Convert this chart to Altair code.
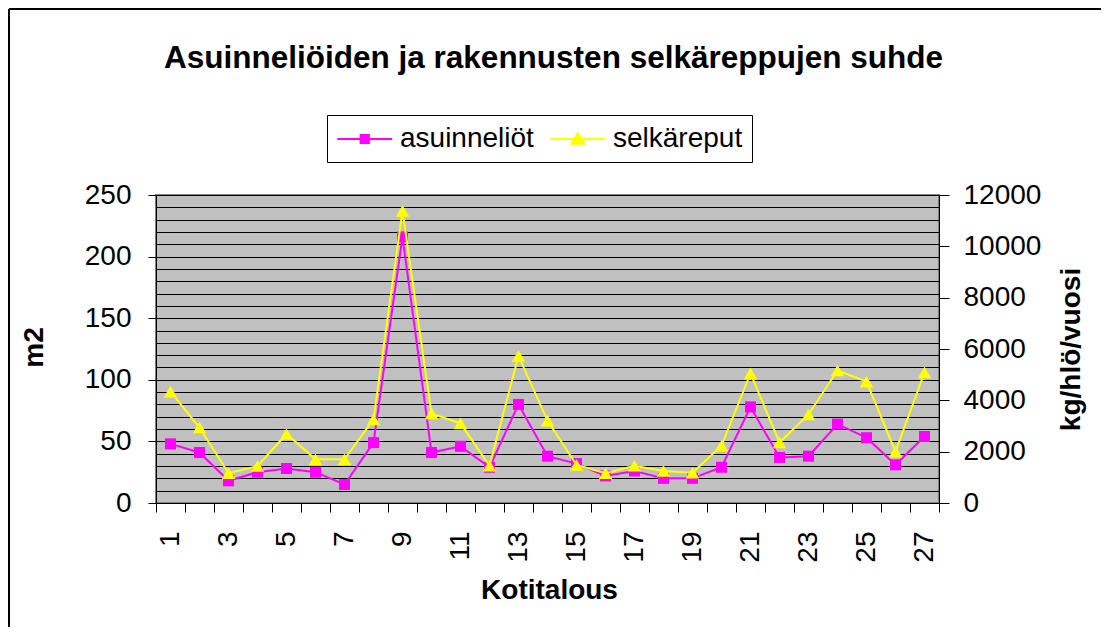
import altair as alt
import pandas as pd

# ---- data ----
kotitalous = list(range(1, 28))
asuinneliot = [48, 41, 18, 25, 28, 25, 15, 49, 216, 41, 46, 29, 80, 38,
               32, 22, 26, 20, 20, 29, 78, 37, 38, 64, 53, 31, 54]
selkareput = [4340, 2940, 1160, 1440, 2690, 1700, 1700, 3260, 11380, 3490,
              3100, 1450, 5730, 3210, 1480, 1160, 1450, 1250, 1180, 2230,
              5050, 2360, 3450, 5160, 4730, 2000, 5090]
series_names = ["asuinneliöt", "selkäreput"]
series_colors = ["#FF00FF", "#FFFF00"]
legend_symbols = ["M-1,0H3M0.7,-0.3H1.3V0.3H0.7Z",
                  "M-1,0H3M1,-0.42L1.47,0.34H0.53Z"]
left_values = list(range(0, 251, 10))
right_values = list(range(0, 12001, 2000))
x_values = [i + 0.5 for i in range(0, 28)]

FONT = "Liberation Sans"

df_a = pd.DataFrame({"k": kotitalous, "v": asuinneliot, "sarja": series_names[0]})
df_s = pd.DataFrame({"k": kotitalous, "v": selkareput, "sarja": series_names[1]})
df_one = pd.DataFrame({"n": [0]})

x_enc = alt.X(
    "k:Q",
    scale=alt.Scale(domain=[0.5, 27.5], nice=False, zero=False),
    axis=alt.Axis(
        values=x_values,
        labelExpr="(datum.value + 0.5) % 2 == 1 ? format(datum.value + 0.5, 'd') : ''",
        labelOffset=14.5,
        labelAngle=270,
        labelOverlap=False,
        labelFontSize=28,
        labelFont=FONT,
        labelColor="black",
        labelPadding=19,
        tickSize=9,
        tickColor="black",
        domainColor="black",
        grid=False,
        title="Kotitalous",
        titleFontSize=28,
        titleFont=FONT,
        titleFontWeight="bold",
        titleColor="black",
        titleX=393,
        titleY=87,
        titleBaseline="middle",
        titleAlign="center",
    ),
)

legend = alt.Legend(
    orient="none",
    legendX=171,
    legendY=-80,
    direction="horizontal",
    title=None,
    labelFontSize=28,
    labelFont=FONT,
    labelColor="black",
    labelOffset=34,
    columnPadding=12,
    symbolSize=756,
    symbolStrokeWidth=2,
    symbolOpacity=1,
    strokeColor="black",
    fillColor="white",
    padding=9,
)

color_enc = alt.Color("sarja:N", scale=alt.Scale(domain=series_names, range=series_colors), legend=legend)
stroke_enc = alt.Stroke("sarja:N", scale=alt.Scale(domain=series_names, range=series_colors), legend=legend)
shape_enc = alt.Shape("sarja:N", scale=alt.Scale(domain=series_names, range=legend_symbols), legend=legend)

y_left = alt.Y(
    "v:Q",
    scale=alt.Scale(domain=[0, 250], nice=False),
    axis=alt.Axis(
        values=left_values,
        labelExpr="datum.value % 50 == 0 ? datum.label : ''",
        tickOpacity={"condition": {"test": "datum.value % 50 == 0", "value": 1}, "value": 0},
        grid=True,
        gridColor="black",
        gridOpacity=1,
        gridWidth=1,
        tickSize=8,
        tickColor="black",
        domainColor="black",
        labelFontSize=28,
        labelFont=FONT,
        labelColor="black",
        labelPadding=17,
        labelOverlap=False,
        title="m2",
        titleFontSize=28,
        titleFont=FONT,
        titleFontWeight="bold",
        titleColor="black",
        titleAngle=270,
        titleX=-122,
        titleY=152,
        titleBaseline="middle",
        titleAlign="center",
    ),
)

y_right = alt.Y(
    "v:Q",
    scale=alt.Scale(domain=[0, 12000], nice=False),
    axis=alt.Axis(
        orient="right",
        values=right_values,
        grid=False,
        tickSize=10,
        tickColor="black",
        domainColor="black",
        labelFontSize=28,
        labelFont=FONT,
        labelColor="black",
        labelPadding=14,
        labelOverlap=False,
        format="d",
        title="kg/hlö/vuosi",
        titleFontSize=28,
        titleFont=FONT,
        titleFontWeight="bold",
        titleColor="black",
        titleAngle=270,
        titleX=132,
        titleY=154,
        titleBaseline="middle",
        titleAlign="center",
    ),
)

base_a = alt.Chart(df_a).encode(x=x_enc, y=y_left, color=color_enc)
layer_a = alt.layer(
    base_a.mark_line(strokeWidth=2),
    base_a.mark_point(shape="square", filled=True, size=121, opacity=1),
    # legend-only layer (no rows survive the filter)
    alt.Chart(df_a).transform_filter("false").mark_point(filled=True, opacity=1, strokeWidth=2)
    .encode(x=x_enc, y=y_left, color=color_enc, stroke=stroke_enc, shape=shape_enc),
)

base_s = alt.Chart(df_s).encode(x=x_enc, y=y_right, color=color_enc)
layer_s = alt.layer(
    base_s.mark_line(strokeWidth=2),
    base_s.mark_point(shape="triangle-up", filled=True, size=180, opacity=1),
)

# outer chart frame (top and left edges visible in the reference)
frame = alt.layer(
    alt.Chart(df_one).mark_rule(color="black", strokeWidth=2)
    .encode(x=alt.value(-147), x2=alt.value(960), y=alt.value(-186)),
    alt.Chart(df_one).mark_rule(color="black", strokeWidth=2)
    .encode(x=alt.value(-147), y=alt.value(-186), y2=alt.value(440)),
)

chart = (
    alt.layer(layer_a, layer_s, frame)
    .resolve_scale(y="independent")
    .properties(
        width=783,
        height=308,
        padding={"left": 148, "top": 187, "right": 162, "bottom": 124},
        autosize=alt.AutoSizeParams(type="none"),
        background="white",
        title=alt.TitleParams(
            "Asuinneliöiden ja rakennusten selkäreppujen suhde",
            fontSize=31.5,
            font=FONT,
            fontWeight="bold",
            color="black",
            anchor="middle",
            offset=0,
            dy=66,
            dx=6,
        ),
    )
    .configure_view(fill="#C0C0C0", stroke="#808080", strokeWidth=2)
)

chart.save("out.html", embed_options={"renderer": "svg", "actions": False})
